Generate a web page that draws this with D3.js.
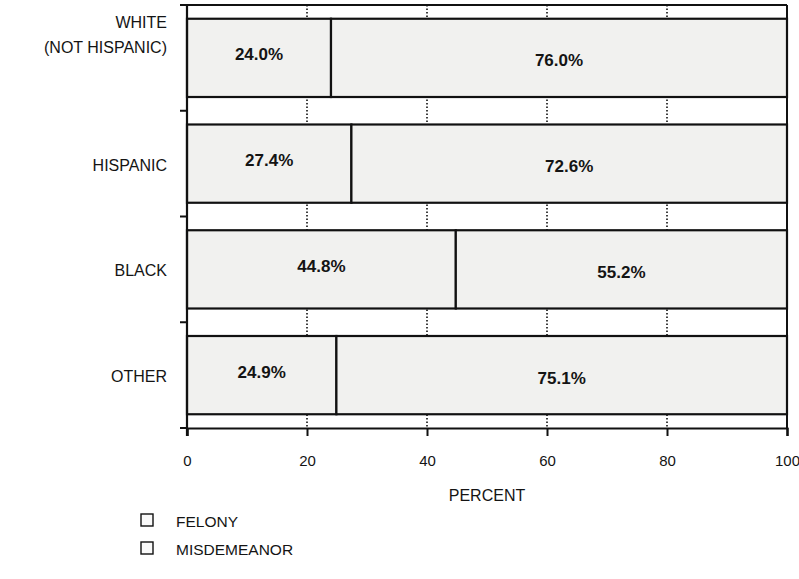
<!DOCTYPE html>
<html>
<head>
<meta charset="utf-8">
<script src="https://cdn.jsdelivr.net/npm/d3@7"></script>
<style>
  html, body { margin: 0; padding: 0; background: #fff; }
  svg { display: block; }
  text { font-family: "Liberation Sans", Arial, Helvetica, sans-serif; fill: #141414; }
</style>
</head>
<body>
<svg id="chart" width="799" height="579"></svg>
<script>
const categories = ["WHITE|(NOT HISPANIC)", "HISPANIC", "BLACK", "OTHER"];
const felony = [24.0, 27.4, 44.8, 24.9];
const misdemeanor = [76.0, 72.6, 55.2, 75.1];
const xTicks = [0, 20, 40, 60, 80, 100];
const seriesNames = ["FELONY", "MISDEMEANOR"];

(function () {
const svg = d3.select("#chart");
const pL = 187, pR = 787, pT = 5, pB = 428;

const x = d3.scaleLinear().domain([0, 100]).range([pL, pR]);
const y = d3.scaleBand().domain(categories).range([pT, pB]).paddingInner(0.26).paddingOuter(0.13);

const ink = "#111";
const fillC = "#f1f1ef";

svg.append("g").selectAll("line").data(xTicks.filter(d => d > 0 && d < 100)).join("line")
  .attr("x1", d => x(d)).attr("x2", d => x(d))
  .attr("y1", pT).attr("y2", pB)
  .attr("stroke", ink).attr("stroke-width", 1.6).attr("stroke-dasharray", "1.5,2");

svg.append("line").attr("x1", pL).attr("x2", pR).attr("y1", pT).attr("y2", pT)
  .attr("stroke", ink).attr("stroke-width", 2);
svg.append("line").attr("x1", pR).attr("x2", pR).attr("y1", pT).attr("y2", pB)
  .attr("stroke", ink).attr("stroke-width", 2);

const rows = categories.map((c, i) => ({c, f: felony[i], m: misdemeanor[i]}));

const g = svg.append("g");
g.selectAll("rect.f").data(rows).join("rect").attr("class", "f")
  .attr("x", x(0)).attr("y", d => y(d.c))
  .attr("width", d => x(d.f) - x(0)).attr("height", y.bandwidth())
  .attr("fill", fillC).attr("stroke", ink).attr("stroke-width", 2.2);
g.selectAll("rect.m").data(rows).join("rect").attr("class", "m")
  .attr("x", d => x(d.f)).attr("y", d => y(d.c))
  .attr("width", d => x(d.f + d.m) - x(d.f)).attr("height", y.bandwidth())
  .attr("fill", fillC).attr("stroke", ink).attr("stroke-width", 2.2);

g.selectAll("text.fl").data(rows).join("text").attr("class", "fl")
  .attr("x", d => x(d.f / 2)).attr("y", d => y(d.c) + y.bandwidth() / 2 - 2)
  .attr("text-anchor", "middle").attr("dominant-baseline", "middle")
  .attr("font-size", 17).attr("font-weight", "bold")
  .text(d => d.f.toFixed(1) + "%");
g.selectAll("text.ml").data(rows).join("text").attr("class", "ml")
  .attr("x", d => x(d.f + d.m / 2)).attr("y", d => y(d.c) + y.bandwidth() / 2 + 4)
  .attr("text-anchor", "middle").attr("dominant-baseline", "middle")
  .attr("font-size", 17).attr("font-weight", "bold")
  .text(d => d.m.toFixed(1) + "%");

const step = (pB - pT) / categories.length;
svg.append("line").attr("x1", pL).attr("x2", pL).attr("y1", pT).attr("y2", pB + 8)
  .attr("stroke", ink).attr("stroke-width", 2.2);
svg.append("g").selectAll("line").data(d3.range(categories.length + 1)).join("line")
  .attr("x1", pL - 7).attr("x2", pL).attr("y1", i => pT + i * step).attr("y2", i => pT + i * step)
  .attr("stroke", ink).attr("stroke-width", 2);

const cl = svg.append("g");
rows.forEach(d => {
  const parts = d.c.split("|");
  const cy = y(d.c) + y.bandwidth() / 2;
  const t = cl.append("text").attr("text-anchor", "end").attr("font-size", 16);
  if (parts.length === 1) {
    t.append("tspan").attr("x", 167).attr("y", cy + 7).text(parts[0]);
  } else {
    t.append("tspan").attr("x", 167).attr("y", 28).text(parts[0]);
    t.append("tspan").attr("x", 167).attr("y", 53).text(parts[1]);
  }
});

const xAxis = d3.axisBottom(x).tickValues(xTicks).tickSize(8).tickPadding(19).tickFormat(d3.format("d"));
const ax = svg.append("g").attr("transform", `translate(0,${pB})`).call(xAxis);
ax.select(".domain").attr("stroke", ink).attr("stroke-width", 2.2);
ax.selectAll(".tick line").attr("stroke", ink).attr("stroke-width", 2);
ax.selectAll(".tick text").attr("font-size", 15).attr("fill", ink)
  .style("font-family", '"Liberation Sans", Arial, sans-serif');

svg.append("text").attr("x", x(50)).attr("y", 501).attr("text-anchor", "middle")
  .attr("font-size", 16).text("PERCENT");

const lg = svg.append("g");
seriesNames.forEach((s, i) => {
  const ly = 521 + i * 28;
  lg.append("rect").attr("x", 141).attr("y", ly - 7).attr("width", 12).attr("height", 12)
    .attr("fill", "#fafafa").attr("stroke", ink).attr("stroke-width", 1.4);
  lg.append("text").attr("x", 176).attr("y", ly + 6).attr("font-size", 15.5).text(s);
});
})();
</script>
</body>
</html>
